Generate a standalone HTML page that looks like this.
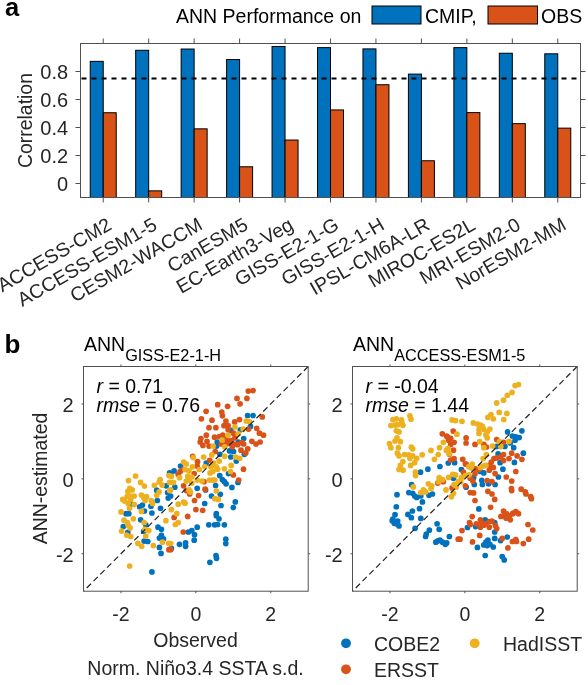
<!DOCTYPE html>
<html><head><meta charset="utf-8"><style>
html,body{margin:0;padding:0;background:#fff;}
svg{display:block;will-change:transform;font-family:"Liberation Sans",sans-serif;}
</style></head><body>
<svg width="588" height="685" viewBox="0 0 588 685">
<rect x="90.23" y="61.36" width="13.00" height="136.14" fill="#0072BD" stroke="#000" stroke-width="1"/>
<rect x="103.23" y="112.74" width="13.00" height="84.76" fill="#D95319" stroke="#000" stroke-width="1"/>
<rect x="135.68" y="50.30" width="13.00" height="147.20" fill="#0072BD" stroke="#000" stroke-width="1"/>
<rect x="148.68" y="190.86" width="13.00" height="6.64" fill="#D95319" stroke="#000" stroke-width="1"/>
<rect x="181.14" y="49.04" width="13.00" height="148.46" fill="#0072BD" stroke="#000" stroke-width="1"/>
<rect x="194.14" y="128.84" width="13.00" height="68.66" fill="#D95319" stroke="#000" stroke-width="1"/>
<rect x="226.59" y="59.54" width="13.00" height="137.96" fill="#0072BD" stroke="#000" stroke-width="1"/>
<rect x="239.59" y="166.78" width="13.00" height="30.72" fill="#D95319" stroke="#000" stroke-width="1"/>
<rect x="272.05" y="46.52" width="13.00" height="150.98" fill="#0072BD" stroke="#000" stroke-width="1"/>
<rect x="285.05" y="140.04" width="13.00" height="57.46" fill="#D95319" stroke="#000" stroke-width="1"/>
<rect x="317.50" y="47.64" width="13.00" height="149.86" fill="#0072BD" stroke="#000" stroke-width="1"/>
<rect x="330.50" y="109.94" width="13.00" height="87.56" fill="#D95319" stroke="#000" stroke-width="1"/>
<rect x="362.95" y="48.90" width="13.00" height="148.60" fill="#0072BD" stroke="#000" stroke-width="1"/>
<rect x="375.95" y="84.74" width="13.00" height="112.76" fill="#D95319" stroke="#000" stroke-width="1"/>
<rect x="408.41" y="74.10" width="13.00" height="123.40" fill="#0072BD" stroke="#000" stroke-width="1"/>
<rect x="421.41" y="160.76" width="13.00" height="36.74" fill="#D95319" stroke="#000" stroke-width="1"/>
<rect x="453.86" y="47.64" width="13.00" height="149.86" fill="#0072BD" stroke="#000" stroke-width="1"/>
<rect x="466.86" y="112.60" width="13.00" height="84.90" fill="#D95319" stroke="#000" stroke-width="1"/>
<rect x="499.32" y="53.24" width="13.00" height="144.26" fill="#0072BD" stroke="#000" stroke-width="1"/>
<rect x="512.32" y="123.66" width="13.00" height="73.84" fill="#D95319" stroke="#000" stroke-width="1"/>
<rect x="544.77" y="53.80" width="13.00" height="143.70" fill="#0072BD" stroke="#000" stroke-width="1"/>
<rect x="557.77" y="128.14" width="13.00" height="69.36" fill="#D95319" stroke="#000" stroke-width="1"/>
<line x1="80.5" y1="78.50" x2="580.5" y2="78.50" stroke="#000" stroke-width="2" stroke-dasharray="5 5" stroke-dashoffset="-1"/>
<rect x="80.5" y="43.5" width="500.0" height="154.0" fill="none" stroke="#505050" stroke-width="1"/>
<line x1="103.23" y1="43.5" x2="103.23" y2="38.5" stroke="#505050" stroke-width="1"/>
<line x1="103.23" y1="197.5" x2="103.23" y2="202.5" stroke="#505050" stroke-width="1"/>
<line x1="148.68" y1="43.5" x2="148.68" y2="38.5" stroke="#505050" stroke-width="1"/>
<line x1="148.68" y1="197.5" x2="148.68" y2="202.5" stroke="#505050" stroke-width="1"/>
<line x1="194.14" y1="43.5" x2="194.14" y2="38.5" stroke="#505050" stroke-width="1"/>
<line x1="194.14" y1="197.5" x2="194.14" y2="202.5" stroke="#505050" stroke-width="1"/>
<line x1="239.59" y1="43.5" x2="239.59" y2="38.5" stroke="#505050" stroke-width="1"/>
<line x1="239.59" y1="197.5" x2="239.59" y2="202.5" stroke="#505050" stroke-width="1"/>
<line x1="285.05" y1="43.5" x2="285.05" y2="38.5" stroke="#505050" stroke-width="1"/>
<line x1="285.05" y1="197.5" x2="285.05" y2="202.5" stroke="#505050" stroke-width="1"/>
<line x1="330.50" y1="43.5" x2="330.50" y2="38.5" stroke="#505050" stroke-width="1"/>
<line x1="330.50" y1="197.5" x2="330.50" y2="202.5" stroke="#505050" stroke-width="1"/>
<line x1="375.95" y1="43.5" x2="375.95" y2="38.5" stroke="#505050" stroke-width="1"/>
<line x1="375.95" y1="197.5" x2="375.95" y2="202.5" stroke="#505050" stroke-width="1"/>
<line x1="421.41" y1="43.5" x2="421.41" y2="38.5" stroke="#505050" stroke-width="1"/>
<line x1="421.41" y1="197.5" x2="421.41" y2="202.5" stroke="#505050" stroke-width="1"/>
<line x1="466.86" y1="43.5" x2="466.86" y2="38.5" stroke="#505050" stroke-width="1"/>
<line x1="466.86" y1="197.5" x2="466.86" y2="202.5" stroke="#505050" stroke-width="1"/>
<line x1="512.32" y1="43.5" x2="512.32" y2="38.5" stroke="#505050" stroke-width="1"/>
<line x1="512.32" y1="197.5" x2="512.32" y2="202.5" stroke="#505050" stroke-width="1"/>
<line x1="557.77" y1="43.5" x2="557.77" y2="38.5" stroke="#505050" stroke-width="1"/>
<line x1="557.77" y1="197.5" x2="557.77" y2="202.5" stroke="#505050" stroke-width="1"/>
<line x1="75.5" y1="183.50" x2="80.5" y2="183.50" stroke="#505050" stroke-width="1"/>
<line x1="580.5" y1="183.50" x2="585.5" y2="183.50" stroke="#505050" stroke-width="1"/>
<text x="68.10" y="190.70" font-size="20" text-anchor="end" fill="#262626">0</text>
<line x1="75.5" y1="155.50" x2="80.5" y2="155.50" stroke="#505050" stroke-width="1"/>
<line x1="580.5" y1="155.50" x2="585.5" y2="155.50" stroke="#505050" stroke-width="1"/>
<text x="68.10" y="162.70" font-size="20" text-anchor="end" fill="#262626">0.2</text>
<line x1="75.5" y1="127.50" x2="80.5" y2="127.50" stroke="#505050" stroke-width="1"/>
<line x1="580.5" y1="127.50" x2="585.5" y2="127.50" stroke="#505050" stroke-width="1"/>
<text x="68.10" y="134.70" font-size="20" text-anchor="end" fill="#262626">0.4</text>
<line x1="75.5" y1="99.50" x2="80.5" y2="99.50" stroke="#505050" stroke-width="1"/>
<line x1="580.5" y1="99.50" x2="585.5" y2="99.50" stroke="#505050" stroke-width="1"/>
<text x="68.10" y="106.70" font-size="20" text-anchor="end" fill="#262626">0.6</text>
<line x1="75.5" y1="71.50" x2="80.5" y2="71.50" stroke="#505050" stroke-width="1"/>
<line x1="580.5" y1="71.50" x2="585.5" y2="71.50" stroke="#505050" stroke-width="1"/>
<text x="68.10" y="78.70" font-size="20" text-anchor="end" fill="#262626">0.8</text>
<text transform="translate(32,120.5) rotate(-90)" font-size="19.4" text-anchor="middle" fill="#262626">Correlation</text>
<text transform="translate(105.73,216) rotate(-30)" font-size="19.5" text-anchor="end" dominant-baseline="hanging" fill="#262626">ACCESS-CM2</text>
<text transform="translate(151.18,216) rotate(-30)" font-size="19.5" text-anchor="end" dominant-baseline="hanging" fill="#262626">ACCESS-ESM1-5</text>
<text transform="translate(196.64,216) rotate(-30)" font-size="19.5" text-anchor="end" dominant-baseline="hanging" fill="#262626">CESM2-WACCM</text>
<text transform="translate(242.09,216) rotate(-30)" font-size="19.5" text-anchor="end" dominant-baseline="hanging" fill="#262626">CanESM5</text>
<text transform="translate(287.55,216) rotate(-30)" font-size="19.5" text-anchor="end" dominant-baseline="hanging" fill="#262626">EC-Earth3-Veg</text>
<text transform="translate(333.00,216) rotate(-30)" font-size="19.5" text-anchor="end" dominant-baseline="hanging" fill="#262626">GISS-E2-1-G</text>
<text transform="translate(378.45,216) rotate(-30)" font-size="19.5" text-anchor="end" dominant-baseline="hanging" fill="#262626">GISS-E2-1-H</text>
<text transform="translate(423.91,216) rotate(-30)" font-size="19.5" text-anchor="end" dominant-baseline="hanging" fill="#262626">IPSL-CM6A-LR</text>
<text transform="translate(469.36,216) rotate(-30)" font-size="19.5" text-anchor="end" dominant-baseline="hanging" fill="#262626">MIROC-ES2L</text>
<text transform="translate(514.82,216) rotate(-30)" font-size="19.5" text-anchor="end" dominant-baseline="hanging" fill="#262626">MRI-ESM2-0</text>
<text transform="translate(560.27,216) rotate(-30)" font-size="19.5" text-anchor="end" dominant-baseline="hanging" fill="#262626">NorESM2-MM</text>
<text x="176" y="22.6" font-size="19.5" fill="#000">ANN Performance on</text>
<rect x="372" y="6" width="49" height="18" fill="#0072BD" stroke="#000" stroke-width="1"/>
<text x="425" y="22.6" font-size="19.5" fill="#000">CMIP,</text>
<rect x="488" y="6" width="49.5" height="18" fill="#D95319" stroke="#000" stroke-width="1"/>
<text x="541" y="22.6" font-size="19.5" fill="#000">OBS</text>
<text x="5" y="15.8" font-size="25.5" font-weight="bold" fill="#000">a</text>
<text x="4.5" y="352.5" font-size="26" font-weight="bold" fill="#000">b</text>
<circle cx="247.6" cy="415.5" r="2.85" fill="#0072BD"/>
<circle cx="253.1" cy="415.5" r="2.85" fill="#0072BD"/>
<circle cx="169.6" cy="472.9" r="2.85" fill="#0072BD"/>
<circle cx="166.2" cy="485.8" r="2.85" fill="#0072BD"/>
<circle cx="156.7" cy="490.2" r="2.85" fill="#0072BD"/>
<circle cx="157.3" cy="500.5" r="2.85" fill="#0072BD"/>
<circle cx="151.0" cy="506.2" r="2.85" fill="#0072BD"/>
<circle cx="139.7" cy="506.9" r="2.85" fill="#0072BD"/>
<circle cx="142.4" cy="505.1" r="2.85" fill="#0072BD"/>
<circle cx="144.4" cy="511.0" r="2.85" fill="#0072BD"/>
<circle cx="160.5" cy="508.3" r="2.85" fill="#0072BD"/>
<circle cx="126.1" cy="513.7" r="2.85" fill="#0072BD"/>
<circle cx="128.8" cy="513.7" r="2.85" fill="#0072BD"/>
<circle cx="151.9" cy="513.0" r="2.85" fill="#0072BD"/>
<circle cx="167.6" cy="492.6" r="2.85" fill="#0072BD"/>
<circle cx="168.2" cy="498.1" r="2.85" fill="#0072BD"/>
<circle cx="130.8" cy="504.6" r="2.85" fill="#0072BD"/>
<circle cx="180.6" cy="466.1" r="2.85" fill="#0072BD"/>
<circle cx="174.1" cy="470.9" r="2.85" fill="#0072BD"/>
<circle cx="219.7" cy="475.6" r="2.85" fill="#0072BD"/>
<circle cx="222.4" cy="479.7" r="2.85" fill="#0072BD"/>
<circle cx="224.4" cy="481.7" r="2.85" fill="#0072BD"/>
<circle cx="226.1" cy="483.8" r="2.85" fill="#0072BD"/>
<circle cx="215.6" cy="485.5" r="2.85" fill="#0072BD"/>
<circle cx="231.9" cy="487.4" r="2.85" fill="#0072BD"/>
<circle cx="197.2" cy="488.3" r="2.85" fill="#0072BD"/>
<circle cx="205.6" cy="489.9" r="2.85" fill="#0072BD"/>
<circle cx="211.5" cy="496.0" r="2.85" fill="#0072BD"/>
<circle cx="220.3" cy="494.3" r="2.85" fill="#0072BD"/>
<circle cx="235.3" cy="501.9" r="2.85" fill="#0072BD"/>
<circle cx="221.0" cy="505.5" r="2.85" fill="#0072BD"/>
<circle cx="233.3" cy="507.6" r="2.85" fill="#0072BD"/>
<circle cx="204.7" cy="503.5" r="2.85" fill="#0072BD"/>
<circle cx="174.8" cy="487.2" r="2.85" fill="#0072BD"/>
<circle cx="170.7" cy="496.0" r="2.85" fill="#0072BD"/>
<circle cx="228.5" cy="473.6" r="2.85" fill="#0072BD"/>
<circle cx="238.0" cy="482.4" r="2.85" fill="#0072BD"/>
<circle cx="216.3" cy="513.7" r="2.85" fill="#0072BD"/>
<circle cx="170.7" cy="474.9" r="2.85" fill="#0072BD"/>
<circle cx="140.6" cy="519.8" r="2.85" fill="#0072BD"/>
<circle cx="145.8" cy="524.8" r="2.85" fill="#0072BD"/>
<circle cx="123.3" cy="526.6" r="2.85" fill="#0072BD"/>
<circle cx="127.8" cy="532.4" r="2.85" fill="#0072BD"/>
<circle cx="143.7" cy="531.3" r="2.85" fill="#0072BD"/>
<circle cx="144.1" cy="541.1" r="2.85" fill="#0072BD"/>
<circle cx="147.8" cy="541.5" r="2.85" fill="#0072BD"/>
<circle cx="158.0" cy="527.2" r="2.85" fill="#0072BD"/>
<circle cx="161.4" cy="529.3" r="2.85" fill="#0072BD"/>
<circle cx="161.4" cy="535.4" r="2.85" fill="#0072BD"/>
<circle cx="159.4" cy="538.1" r="2.85" fill="#0072BD"/>
<circle cx="163.5" cy="538.8" r="2.85" fill="#0072BD"/>
<circle cx="159.4" cy="547.4" r="2.85" fill="#0072BD"/>
<circle cx="161.0" cy="553.4" r="2.85" fill="#0072BD"/>
<circle cx="151.9" cy="571.9" r="2.85" fill="#0072BD"/>
<circle cx="216.3" cy="515.7" r="2.85" fill="#0072BD"/>
<circle cx="219.0" cy="518.8" r="2.85" fill="#0072BD"/>
<circle cx="208.8" cy="524.8" r="2.85" fill="#0072BD"/>
<circle cx="214.6" cy="524.8" r="2.85" fill="#0072BD"/>
<circle cx="217.6" cy="524.5" r="2.85" fill="#0072BD"/>
<circle cx="224.4" cy="524.8" r="2.85" fill="#0072BD"/>
<circle cx="197.2" cy="527.2" r="2.85" fill="#0072BD"/>
<circle cx="188.4" cy="532.0" r="2.85" fill="#0072BD"/>
<circle cx="191.8" cy="530.6" r="2.85" fill="#0072BD"/>
<circle cx="194.5" cy="534.7" r="2.85" fill="#0072BD"/>
<circle cx="194.2" cy="540.2" r="2.85" fill="#0072BD"/>
<circle cx="179.5" cy="544.3" r="2.85" fill="#0072BD"/>
<circle cx="185.6" cy="542.9" r="2.85" fill="#0072BD"/>
<circle cx="185.6" cy="546.3" r="2.85" fill="#0072BD"/>
<circle cx="171.4" cy="548.3" r="2.85" fill="#0072BD"/>
<circle cx="225.8" cy="539.2" r="2.85" fill="#0072BD"/>
<circle cx="225.8" cy="543.6" r="2.85" fill="#0072BD"/>
<circle cx="216.0" cy="555.5" r="2.85" fill="#0072BD"/>
<circle cx="216.5" cy="558.3" r="2.85" fill="#0072BD"/>
<circle cx="209.9" cy="562.3" r="2.85" fill="#0072BD"/>
<circle cx="217.2" cy="442.0" r="2.85" fill="#0072BD"/>
<circle cx="216.5" cy="446.1" r="2.85" fill="#0072BD"/>
<circle cx="229.5" cy="442.7" r="2.85" fill="#0072BD"/>
<circle cx="243.7" cy="438.6" r="2.85" fill="#0072BD"/>
<circle cx="230.8" cy="430.4" r="2.85" fill="#0072BD"/>
<circle cx="240.3" cy="429.8" r="2.85" fill="#0072BD"/>
<circle cx="250.5" cy="426.4" r="2.85" fill="#0072BD"/>
<circle cx="238.3" cy="442.0" r="2.85" fill="#0072BD"/>
<circle cx="229.5" cy="450.9" r="2.85" fill="#0072BD"/>
<circle cx="233.5" cy="451.5" r="2.85" fill="#0072BD"/>
<circle cx="230.8" cy="457.0" r="2.85" fill="#0072BD"/>
<circle cx="244.4" cy="454.3" r="2.85" fill="#0072BD"/>
<circle cx="236.3" cy="461.1" r="2.85" fill="#0072BD"/>
<circle cx="206.3" cy="463.1" r="2.85" fill="#0072BD"/>
<circle cx="219.9" cy="454.3" r="2.85" fill="#0072BD"/>
<circle cx="248.3" cy="391.1" r="2.85" fill="#D95319"/>
<circle cx="253.1" cy="390.6" r="2.85" fill="#D95319"/>
<circle cx="237.0" cy="398.4" r="2.85" fill="#D95319"/>
<circle cx="246.9" cy="398.4" r="2.85" fill="#D95319"/>
<circle cx="240.1" cy="403.8" r="2.85" fill="#D95319"/>
<circle cx="217.7" cy="404.7" r="2.85" fill="#D95319"/>
<circle cx="227.6" cy="406.3" r="2.85" fill="#D95319"/>
<circle cx="206.1" cy="411.3" r="2.85" fill="#D95319"/>
<circle cx="221.8" cy="412.0" r="2.85" fill="#D95319"/>
<circle cx="222.4" cy="415.8" r="2.85" fill="#D95319"/>
<circle cx="201.4" cy="418.8" r="2.85" fill="#D95319"/>
<circle cx="212.0" cy="420.2" r="2.85" fill="#D95319"/>
<circle cx="239.5" cy="419.6" r="2.85" fill="#D95319"/>
<circle cx="262.3" cy="416.9" r="2.85" fill="#D95319"/>
<circle cx="225.9" cy="421.0" r="2.85" fill="#D95319"/>
<circle cx="234.7" cy="421.9" r="2.85" fill="#D95319"/>
<circle cx="197.2" cy="466.1" r="2.85" fill="#D95319"/>
<circle cx="180.2" cy="471.5" r="2.85" fill="#D95319"/>
<circle cx="182.9" cy="469.5" r="2.85" fill="#D95319"/>
<circle cx="194.2" cy="473.6" r="2.85" fill="#D95319"/>
<circle cx="243.5" cy="469.2" r="2.85" fill="#D95319"/>
<circle cx="233.3" cy="474.9" r="2.85" fill="#D95319"/>
<circle cx="238.7" cy="480.1" r="2.85" fill="#D95319"/>
<circle cx="204.0" cy="481.7" r="2.85" fill="#D95319"/>
<circle cx="205.1" cy="489.2" r="2.85" fill="#D95319"/>
<circle cx="183.6" cy="485.8" r="2.85" fill="#D95319"/>
<circle cx="186.3" cy="490.6" r="2.85" fill="#D95319"/>
<circle cx="189.7" cy="494.0" r="2.85" fill="#D95319"/>
<circle cx="198.6" cy="495.6" r="2.85" fill="#D95319"/>
<circle cx="194.5" cy="500.5" r="2.85" fill="#D95319"/>
<circle cx="195.9" cy="509.6" r="2.85" fill="#D95319"/>
<circle cx="202.7" cy="510.3" r="2.85" fill="#D95319"/>
<circle cx="178.2" cy="474.3" r="2.85" fill="#D95319"/>
<circle cx="168.9" cy="549.7" r="2.85" fill="#D95319"/>
<circle cx="174.1" cy="517.4" r="2.85" fill="#D95319"/>
<circle cx="187.7" cy="516.4" r="2.85" fill="#D95319"/>
<circle cx="183.3" cy="532.0" r="2.85" fill="#D95319"/>
<circle cx="170.7" cy="549.7" r="2.85" fill="#D95319"/>
<circle cx="209.0" cy="427.7" r="2.85" fill="#D95319"/>
<circle cx="215.9" cy="427.7" r="2.85" fill="#D95319"/>
<circle cx="224.0" cy="425.7" r="2.85" fill="#D95319"/>
<circle cx="228.1" cy="429.8" r="2.85" fill="#D95319"/>
<circle cx="248.5" cy="429.1" r="2.85" fill="#D95319"/>
<circle cx="256.7" cy="428.4" r="2.85" fill="#D95319"/>
<circle cx="259.4" cy="433.2" r="2.85" fill="#D95319"/>
<circle cx="263.5" cy="435.2" r="2.85" fill="#D95319"/>
<circle cx="206.3" cy="435.2" r="2.85" fill="#D95319"/>
<circle cx="200.9" cy="438.6" r="2.85" fill="#D95319"/>
<circle cx="200.2" cy="442.0" r="2.85" fill="#D95319"/>
<circle cx="202.9" cy="445.4" r="2.85" fill="#D95319"/>
<circle cx="207.0" cy="441.3" r="2.85" fill="#D95319"/>
<circle cx="214.5" cy="437.2" r="2.85" fill="#D95319"/>
<circle cx="219.3" cy="436.6" r="2.85" fill="#D95319"/>
<circle cx="222.7" cy="435.2" r="2.85" fill="#D95319"/>
<circle cx="226.1" cy="439.3" r="2.85" fill="#D95319"/>
<circle cx="221.3" cy="444.0" r="2.85" fill="#D95319"/>
<circle cx="226.7" cy="444.0" r="2.85" fill="#D95319"/>
<circle cx="233.5" cy="433.2" r="2.85" fill="#D95319"/>
<circle cx="234.9" cy="437.9" r="2.85" fill="#D95319"/>
<circle cx="230.8" cy="440.6" r="2.85" fill="#D95319"/>
<circle cx="233.5" cy="444.0" r="2.85" fill="#D95319"/>
<circle cx="232.2" cy="446.8" r="2.85" fill="#D95319"/>
<circle cx="237.6" cy="444.7" r="2.85" fill="#D95319"/>
<circle cx="241.7" cy="442.7" r="2.85" fill="#D95319"/>
<circle cx="243.7" cy="444.0" r="2.85" fill="#D95319"/>
<circle cx="241.0" cy="450.2" r="2.85" fill="#D95319"/>
<circle cx="245.8" cy="452.9" r="2.85" fill="#D95319"/>
<circle cx="247.8" cy="448.8" r="2.85" fill="#D95319"/>
<circle cx="251.9" cy="441.3" r="2.85" fill="#D95319"/>
<circle cx="256.0" cy="444.0" r="2.85" fill="#D95319"/>
<circle cx="260.1" cy="442.0" r="2.85" fill="#D95319"/>
<circle cx="209.0" cy="446.1" r="2.85" fill="#D95319"/>
<circle cx="215.2" cy="451.5" r="2.85" fill="#D95319"/>
<circle cx="209.7" cy="460.4" r="2.85" fill="#D95319"/>
<circle cx="197.5" cy="461.7" r="2.85" fill="#D95319"/>
<circle cx="192.7" cy="456.3" r="2.85" fill="#D95319"/>
<circle cx="228.1" cy="425.7" r="2.85" fill="#D95319"/>
<circle cx="246.3" cy="421.0" r="2.85" fill="#EDB120"/>
<circle cx="249.3" cy="421.5" r="2.85" fill="#EDB120"/>
<circle cx="135.6" cy="476.0" r="2.85" fill="#EDB120"/>
<circle cx="128.5" cy="480.6" r="2.85" fill="#EDB120"/>
<circle cx="140.6" cy="482.4" r="2.85" fill="#EDB120"/>
<circle cx="144.4" cy="486.1" r="2.85" fill="#EDB120"/>
<circle cx="154.4" cy="485.3" r="2.85" fill="#EDB120"/>
<circle cx="160.1" cy="479.7" r="2.85" fill="#EDB120"/>
<circle cx="159.1" cy="482.0" r="2.85" fill="#EDB120"/>
<circle cx="162.1" cy="485.1" r="2.85" fill="#EDB120"/>
<circle cx="129.7" cy="488.3" r="2.85" fill="#EDB120"/>
<circle cx="132.2" cy="489.9" r="2.85" fill="#EDB120"/>
<circle cx="127.8" cy="491.3" r="2.85" fill="#EDB120"/>
<circle cx="127.0" cy="496.7" r="2.85" fill="#EDB120"/>
<circle cx="130.8" cy="496.0" r="2.85" fill="#EDB120"/>
<circle cx="134.2" cy="496.0" r="2.85" fill="#EDB120"/>
<circle cx="122.7" cy="499.4" r="2.85" fill="#EDB120"/>
<circle cx="124.7" cy="501.1" r="2.85" fill="#EDB120"/>
<circle cx="128.1" cy="503.2" r="2.85" fill="#EDB120"/>
<circle cx="130.8" cy="499.4" r="2.85" fill="#EDB120"/>
<circle cx="141.4" cy="495.1" r="2.85" fill="#EDB120"/>
<circle cx="143.7" cy="497.4" r="2.85" fill="#EDB120"/>
<circle cx="146.5" cy="496.7" r="2.85" fill="#EDB120"/>
<circle cx="145.1" cy="500.5" r="2.85" fill="#EDB120"/>
<circle cx="151.2" cy="500.5" r="2.85" fill="#EDB120"/>
<circle cx="152.6" cy="503.5" r="2.85" fill="#EDB120"/>
<circle cx="156.7" cy="495.3" r="2.85" fill="#EDB120"/>
<circle cx="159.1" cy="491.9" r="2.85" fill="#EDB120"/>
<circle cx="134.2" cy="504.6" r="2.85" fill="#EDB120"/>
<circle cx="129.5" cy="508.3" r="2.85" fill="#EDB120"/>
<circle cx="121.0" cy="511.9" r="2.85" fill="#EDB120"/>
<circle cx="141.4" cy="511.4" r="2.85" fill="#EDB120"/>
<circle cx="168.9" cy="475.6" r="2.85" fill="#EDB120"/>
<circle cx="169.6" cy="482.4" r="2.85" fill="#EDB120"/>
<circle cx="169.6" cy="490.6" r="2.85" fill="#EDB120"/>
<circle cx="183.6" cy="462.0" r="2.85" fill="#EDB120"/>
<circle cx="186.3" cy="464.0" r="2.85" fill="#EDB120"/>
<circle cx="185.0" cy="469.5" r="2.85" fill="#EDB120"/>
<circle cx="189.0" cy="470.9" r="2.85" fill="#EDB120"/>
<circle cx="192.4" cy="466.8" r="2.85" fill="#EDB120"/>
<circle cx="199.3" cy="469.5" r="2.85" fill="#EDB120"/>
<circle cx="204.7" cy="466.5" r="2.85" fill="#EDB120"/>
<circle cx="210.8" cy="466.8" r="2.85" fill="#EDB120"/>
<circle cx="213.5" cy="465.4" r="2.85" fill="#EDB120"/>
<circle cx="216.3" cy="466.8" r="2.85" fill="#EDB120"/>
<circle cx="210.1" cy="472.9" r="2.85" fill="#EDB120"/>
<circle cx="212.9" cy="471.5" r="2.85" fill="#EDB120"/>
<circle cx="217.6" cy="469.2" r="2.85" fill="#EDB120"/>
<circle cx="224.4" cy="468.8" r="2.85" fill="#EDB120"/>
<circle cx="231.2" cy="465.4" r="2.85" fill="#EDB120"/>
<circle cx="230.5" cy="471.5" r="2.85" fill="#EDB120"/>
<circle cx="171.4" cy="476.3" r="2.85" fill="#EDB120"/>
<circle cx="179.5" cy="477.7" r="2.85" fill="#EDB120"/>
<circle cx="187.7" cy="476.3" r="2.85" fill="#EDB120"/>
<circle cx="189.0" cy="479.7" r="2.85" fill="#EDB120"/>
<circle cx="191.8" cy="477.0" r="2.85" fill="#EDB120"/>
<circle cx="186.3" cy="481.1" r="2.85" fill="#EDB120"/>
<circle cx="173.4" cy="482.4" r="2.85" fill="#EDB120"/>
<circle cx="191.8" cy="483.1" r="2.85" fill="#EDB120"/>
<circle cx="197.2" cy="480.1" r="2.85" fill="#EDB120"/>
<circle cx="202.0" cy="481.1" r="2.85" fill="#EDB120"/>
<circle cx="209.5" cy="480.1" r="2.85" fill="#EDB120"/>
<circle cx="212.9" cy="480.1" r="2.85" fill="#EDB120"/>
<circle cx="214.9" cy="480.1" r="2.85" fill="#EDB120"/>
<circle cx="170.7" cy="489.9" r="2.85" fill="#EDB120"/>
<circle cx="189.0" cy="489.9" r="2.85" fill="#EDB120"/>
<circle cx="190.4" cy="491.9" r="2.85" fill="#EDB120"/>
<circle cx="216.3" cy="491.0" r="2.85" fill="#EDB120"/>
<circle cx="214.9" cy="498.7" r="2.85" fill="#EDB120"/>
<circle cx="218.3" cy="499.4" r="2.85" fill="#EDB120"/>
<circle cx="178.2" cy="504.2" r="2.85" fill="#EDB120"/>
<circle cx="183.6" cy="502.1" r="2.85" fill="#EDB120"/>
<circle cx="185.0" cy="503.2" r="2.85" fill="#EDB120"/>
<circle cx="171.4" cy="509.6" r="2.85" fill="#EDB120"/>
<circle cx="176.8" cy="513.7" r="2.85" fill="#EDB120"/>
<circle cx="124.0" cy="520.2" r="2.85" fill="#EDB120"/>
<circle cx="133.3" cy="518.8" r="2.85" fill="#EDB120"/>
<circle cx="127.4" cy="522.5" r="2.85" fill="#EDB120"/>
<circle cx="128.1" cy="525.2" r="2.85" fill="#EDB120"/>
<circle cx="130.1" cy="527.9" r="2.85" fill="#EDB120"/>
<circle cx="121.6" cy="531.1" r="2.85" fill="#EDB120"/>
<circle cx="126.7" cy="535.1" r="2.85" fill="#EDB120"/>
<circle cx="130.8" cy="536.5" r="2.85" fill="#EDB120"/>
<circle cx="144.1" cy="522.5" r="2.85" fill="#EDB120"/>
<circle cx="145.1" cy="529.3" r="2.85" fill="#EDB120"/>
<circle cx="148.8" cy="530.6" r="2.85" fill="#EDB120"/>
<circle cx="145.8" cy="536.1" r="2.85" fill="#EDB120"/>
<circle cx="137.9" cy="543.3" r="2.85" fill="#EDB120"/>
<circle cx="141.7" cy="546.3" r="2.85" fill="#EDB120"/>
<circle cx="153.3" cy="545.6" r="2.85" fill="#EDB120"/>
<circle cx="162.4" cy="542.2" r="2.85" fill="#EDB120"/>
<circle cx="168.6" cy="543.3" r="2.85" fill="#EDB120"/>
<circle cx="165.9" cy="520.7" r="2.85" fill="#EDB120"/>
<circle cx="129.7" cy="566.0" r="2.85" fill="#EDB120"/>
<circle cx="175.4" cy="524.5" r="2.85" fill="#EDB120"/>
<circle cx="178.2" cy="522.5" r="2.85" fill="#EDB120"/>
<circle cx="170.7" cy="543.6" r="2.85" fill="#EDB120"/>
<circle cx="222.0" cy="440.0" r="2.85" fill="#EDB120"/>
<circle cx="228.1" cy="435.2" r="2.85" fill="#EDB120"/>
<circle cx="234.9" cy="427.0" r="2.85" fill="#EDB120"/>
<circle cx="238.3" cy="433.8" r="2.85" fill="#EDB120"/>
<circle cx="243.1" cy="429.1" r="2.85" fill="#EDB120"/>
<circle cx="213.1" cy="446.1" r="2.85" fill="#EDB120"/>
<circle cx="224.7" cy="446.8" r="2.85" fill="#EDB120"/>
<circle cx="211.8" cy="454.9" r="2.85" fill="#EDB120"/>
<circle cx="203.6" cy="457.0" r="2.85" fill="#EDB120"/>
<circle cx="193.4" cy="457.7" r="2.85" fill="#EDB120"/>
<circle cx="219.3" cy="461.1" r="2.85" fill="#EDB120"/>
<circle cx="224.7" cy="456.3" r="2.85" fill="#EDB120"/>
<circle cx="235.6" cy="457.0" r="2.85" fill="#EDB120"/>
<circle cx="239.7" cy="458.3" r="2.85" fill="#EDB120"/>
<circle cx="213.8" cy="463.1" r="2.85" fill="#EDB120"/>
<line x1="308.2" y1="366.5" x2="83.5" y2="591.2" stroke="#222" stroke-width="1.2" stroke-dasharray="6 3.6"/>
<rect x="83.5" y="366.5" width="224.7" height="224.7" fill="none" stroke="#505050" stroke-width="1"/>
<line x1="120.95" y1="366.5" x2="120.95" y2="364.5" stroke="#505050" stroke-width="1"/>
<line x1="120.95" y1="591.2" x2="120.95" y2="593.2" stroke="#505050" stroke-width="1"/>
<line x1="81.5" y1="553.75" x2="83.5" y2="553.75" stroke="#505050" stroke-width="1"/>
<line x1="308.2" y1="553.75" x2="310.2" y2="553.75" stroke="#505050" stroke-width="1"/>
<text x="120.95" y="621.4000000000001" font-size="19.5" text-anchor="middle" fill="#262626">-2</text>
<text x="73.70" y="561.75" font-size="20" text-anchor="end" fill="#262626">-2</text>
<line x1="195.85" y1="366.5" x2="195.85" y2="364.5" stroke="#505050" stroke-width="1"/>
<line x1="195.85" y1="591.2" x2="195.85" y2="593.2" stroke="#505050" stroke-width="1"/>
<line x1="81.5" y1="478.85" x2="83.5" y2="478.85" stroke="#505050" stroke-width="1"/>
<line x1="308.2" y1="478.85" x2="310.2" y2="478.85" stroke="#505050" stroke-width="1"/>
<text x="195.85" y="621.4000000000001" font-size="19.5" text-anchor="middle" fill="#262626">0</text>
<text x="73.70" y="486.85" font-size="20" text-anchor="end" fill="#262626">0</text>
<line x1="270.75" y1="366.5" x2="270.75" y2="364.5" stroke="#505050" stroke-width="1"/>
<line x1="270.75" y1="591.2" x2="270.75" y2="593.2" stroke="#505050" stroke-width="1"/>
<line x1="81.5" y1="403.95" x2="83.5" y2="403.95" stroke="#505050" stroke-width="1"/>
<line x1="308.2" y1="403.95" x2="310.2" y2="403.95" stroke="#505050" stroke-width="1"/>
<text x="270.75" y="621.4000000000001" font-size="19.5" text-anchor="middle" fill="#262626">2</text>
<text x="73.70" y="411.95" font-size="20" text-anchor="end" fill="#262626">2</text>
<text x="84.0" y="351" font-size="19.5" fill="#000">ANN<tspan font-size="16.3" dy="10">GISS-E2-1-H</tspan></text>
<text x="96.5" y="392.8" font-size="19.5" fill="#000"><tspan font-style="italic">r</tspan> = 0.71</text>
<text x="96.5" y="411.9" font-size="19.5" fill="#000"><tspan font-style="italic">rmse</tspan> = 0.76</text>
<circle cx="507.6" cy="431.9" r="2.85" fill="#0072BD"/>
<circle cx="521.9" cy="430.8" r="2.85" fill="#0072BD"/>
<circle cx="512.4" cy="436.0" r="2.85" fill="#0072BD"/>
<circle cx="515.8" cy="436.9" r="2.85" fill="#0072BD"/>
<circle cx="519.2" cy="437.6" r="2.85" fill="#0072BD"/>
<circle cx="515.1" cy="440.3" r="2.85" fill="#0072BD"/>
<circle cx="510.3" cy="443.0" r="2.85" fill="#0072BD"/>
<circle cx="420.5" cy="472.2" r="2.85" fill="#0072BD"/>
<circle cx="427.9" cy="469.2" r="2.85" fill="#0072BD"/>
<circle cx="439.9" cy="466.5" r="2.85" fill="#0072BD"/>
<circle cx="448.3" cy="463.0" r="2.85" fill="#0072BD"/>
<circle cx="454.6" cy="462.7" r="2.85" fill="#0072BD"/>
<circle cx="411.6" cy="484.7" r="2.85" fill="#0072BD"/>
<circle cx="408.8" cy="492.6" r="2.85" fill="#0072BD"/>
<circle cx="412.7" cy="493.3" r="2.85" fill="#0072BD"/>
<circle cx="414.7" cy="496.0" r="2.85" fill="#0072BD"/>
<circle cx="416.7" cy="497.4" r="2.85" fill="#0072BD"/>
<circle cx="420.8" cy="496.0" r="2.85" fill="#0072BD"/>
<circle cx="429.0" cy="495.3" r="2.85" fill="#0072BD"/>
<circle cx="432.4" cy="494.0" r="2.85" fill="#0072BD"/>
<circle cx="397.0" cy="494.7" r="2.85" fill="#0072BD"/>
<circle cx="422.4" cy="501.9" r="2.85" fill="#0072BD"/>
<circle cx="396.3" cy="506.9" r="2.85" fill="#0072BD"/>
<circle cx="419.5" cy="508.7" r="2.85" fill="#0072BD"/>
<circle cx="412.4" cy="511.0" r="2.85" fill="#0072BD"/>
<circle cx="407.9" cy="514.4" r="2.85" fill="#0072BD"/>
<circle cx="395.0" cy="514.7" r="2.85" fill="#0072BD"/>
<circle cx="453.5" cy="478.3" r="2.85" fill="#0072BD"/>
<circle cx="513.7" cy="447.7" r="2.85" fill="#0072BD"/>
<circle cx="523.3" cy="453.2" r="2.85" fill="#0072BD"/>
<circle cx="514.4" cy="462.4" r="2.85" fill="#0072BD"/>
<circle cx="498.1" cy="453.8" r="2.85" fill="#0072BD"/>
<circle cx="500.1" cy="462.7" r="2.85" fill="#0072BD"/>
<circle cx="502.9" cy="469.2" r="2.85" fill="#0072BD"/>
<circle cx="483.8" cy="472.9" r="2.85" fill="#0072BD"/>
<circle cx="480.4" cy="471.5" r="2.85" fill="#0072BD"/>
<circle cx="461.4" cy="469.5" r="2.85" fill="#0072BD"/>
<circle cx="473.6" cy="477.7" r="2.85" fill="#0072BD"/>
<circle cx="481.8" cy="480.4" r="2.85" fill="#0072BD"/>
<circle cx="488.6" cy="483.8" r="2.85" fill="#0072BD"/>
<circle cx="495.1" cy="484.5" r="2.85" fill="#0072BD"/>
<circle cx="474.3" cy="484.5" r="2.85" fill="#0072BD"/>
<circle cx="482.4" cy="484.5" r="2.85" fill="#0072BD"/>
<circle cx="466.1" cy="487.2" r="2.85" fill="#0072BD"/>
<circle cx="498.4" cy="477.0" r="2.85" fill="#0072BD"/>
<circle cx="478.8" cy="508.9" r="2.85" fill="#0072BD"/>
<circle cx="504.9" cy="446.4" r="2.85" fill="#0072BD"/>
<circle cx="496.7" cy="446.4" r="2.85" fill="#0072BD"/>
<circle cx="392.9" cy="519.1" r="2.85" fill="#0072BD"/>
<circle cx="397.7" cy="521.1" r="2.85" fill="#0072BD"/>
<circle cx="394.3" cy="523.2" r="2.85" fill="#0072BD"/>
<circle cx="399.0" cy="525.9" r="2.85" fill="#0072BD"/>
<circle cx="396.3" cy="523.8" r="2.85" fill="#0072BD"/>
<circle cx="392.2" cy="520.7" r="2.85" fill="#0072BD"/>
<circle cx="411.3" cy="517.7" r="2.85" fill="#0072BD"/>
<circle cx="420.8" cy="518.4" r="2.85" fill="#0072BD"/>
<circle cx="415.1" cy="528.3" r="2.85" fill="#0072BD"/>
<circle cx="437.1" cy="523.8" r="2.85" fill="#0072BD"/>
<circle cx="439.2" cy="529.3" r="2.85" fill="#0072BD"/>
<circle cx="429.3" cy="530.2" r="2.85" fill="#0072BD"/>
<circle cx="426.3" cy="534.0" r="2.85" fill="#0072BD"/>
<circle cx="425.6" cy="536.5" r="2.85" fill="#0072BD"/>
<circle cx="449.4" cy="536.5" r="2.85" fill="#0072BD"/>
<circle cx="435.8" cy="542.2" r="2.85" fill="#0072BD"/>
<circle cx="437.8" cy="540.9" r="2.85" fill="#0072BD"/>
<circle cx="439.9" cy="540.2" r="2.85" fill="#0072BD"/>
<circle cx="442.6" cy="542.2" r="2.85" fill="#0072BD"/>
<circle cx="445.3" cy="544.3" r="2.85" fill="#0072BD"/>
<circle cx="446.7" cy="542.9" r="2.85" fill="#0072BD"/>
<circle cx="467.5" cy="527.5" r="2.85" fill="#0072BD"/>
<circle cx="475.6" cy="526.6" r="2.85" fill="#0072BD"/>
<circle cx="485.2" cy="519.8" r="2.85" fill="#0072BD"/>
<circle cx="494.7" cy="522.5" r="2.85" fill="#0072BD"/>
<circle cx="494.7" cy="532.0" r="2.85" fill="#0072BD"/>
<circle cx="494.7" cy="538.4" r="2.85" fill="#0072BD"/>
<circle cx="500.5" cy="540.6" r="2.85" fill="#0072BD"/>
<circle cx="507.3" cy="537.0" r="2.85" fill="#0072BD"/>
<circle cx="487.9" cy="540.2" r="2.85" fill="#0072BD"/>
<circle cx="485.9" cy="542.2" r="2.85" fill="#0072BD"/>
<circle cx="483.8" cy="544.9" r="2.85" fill="#0072BD"/>
<circle cx="487.2" cy="545.6" r="2.85" fill="#0072BD"/>
<circle cx="489.9" cy="544.3" r="2.85" fill="#0072BD"/>
<circle cx="493.3" cy="547.0" r="2.85" fill="#0072BD"/>
<circle cx="477.4" cy="547.4" r="2.85" fill="#0072BD"/>
<circle cx="485.2" cy="555.5" r="2.85" fill="#0072BD"/>
<circle cx="502.2" cy="556.5" r="2.85" fill="#0072BD"/>
<circle cx="504.2" cy="559.9" r="2.85" fill="#0072BD"/>
<circle cx="442.3" cy="433.8" r="2.85" fill="#D95319"/>
<circle cx="446.7" cy="436.2" r="2.85" fill="#D95319"/>
<circle cx="448.0" cy="437.6" r="2.85" fill="#D95319"/>
<circle cx="450.7" cy="438.3" r="2.85" fill="#D95319"/>
<circle cx="453.2" cy="431.1" r="2.85" fill="#D95319"/>
<circle cx="448.7" cy="440.3" r="2.85" fill="#D95319"/>
<circle cx="454.1" cy="442.3" r="2.85" fill="#D95319"/>
<circle cx="450.7" cy="444.4" r="2.85" fill="#D95319"/>
<circle cx="466.1" cy="437.9" r="2.85" fill="#D95319"/>
<circle cx="466.1" cy="443.0" r="2.85" fill="#D95319"/>
<circle cx="496.7" cy="439.6" r="2.85" fill="#D95319"/>
<circle cx="503.5" cy="442.3" r="2.85" fill="#D95319"/>
<circle cx="475.0" cy="444.4" r="2.85" fill="#D95319"/>
<circle cx="483.8" cy="444.4" r="2.85" fill="#D95319"/>
<circle cx="453.5" cy="450.2" r="2.85" fill="#D95319"/>
<circle cx="454.1" cy="458.6" r="2.85" fill="#D95319"/>
<circle cx="450.7" cy="460.0" r="2.85" fill="#D95319"/>
<circle cx="449.4" cy="454.3" r="2.85" fill="#D95319"/>
<circle cx="437.8" cy="483.1" r="2.85" fill="#D95319"/>
<circle cx="443.3" cy="481.7" r="2.85" fill="#D95319"/>
<circle cx="452.1" cy="487.9" r="2.85" fill="#D95319"/>
<circle cx="486.5" cy="447.0" r="2.85" fill="#D95319"/>
<circle cx="511.7" cy="453.2" r="2.85" fill="#D95319"/>
<circle cx="517.1" cy="455.9" r="2.85" fill="#D95319"/>
<circle cx="521.9" cy="459.3" r="2.85" fill="#D95319"/>
<circle cx="509.0" cy="458.6" r="2.85" fill="#D95319"/>
<circle cx="503.5" cy="454.5" r="2.85" fill="#D95319"/>
<circle cx="500.8" cy="457.0" r="2.85" fill="#D95319"/>
<circle cx="503.5" cy="460.6" r="2.85" fill="#D95319"/>
<circle cx="494.0" cy="458.6" r="2.85" fill="#D95319"/>
<circle cx="496.7" cy="457.9" r="2.85" fill="#D95319"/>
<circle cx="491.3" cy="462.0" r="2.85" fill="#D95319"/>
<circle cx="489.3" cy="465.4" r="2.85" fill="#D95319"/>
<circle cx="493.3" cy="467.4" r="2.85" fill="#D95319"/>
<circle cx="489.3" cy="470.2" r="2.85" fill="#D95319"/>
<circle cx="495.1" cy="473.6" r="2.85" fill="#D95319"/>
<circle cx="462.7" cy="459.3" r="2.85" fill="#D95319"/>
<circle cx="465.4" cy="464.0" r="2.85" fill="#D95319"/>
<circle cx="475.6" cy="468.8" r="2.85" fill="#D95319"/>
<circle cx="479.0" cy="469.5" r="2.85" fill="#D95319"/>
<circle cx="475.0" cy="473.8" r="2.85" fill="#D95319"/>
<circle cx="463.4" cy="472.2" r="2.85" fill="#D95319"/>
<circle cx="470.2" cy="478.3" r="2.85" fill="#D95319"/>
<circle cx="472.9" cy="481.1" r="2.85" fill="#D95319"/>
<circle cx="465.4" cy="485.8" r="2.85" fill="#D95319"/>
<circle cx="487.2" cy="480.6" r="2.85" fill="#D95319"/>
<circle cx="492.0" cy="481.7" r="2.85" fill="#D95319"/>
<circle cx="506.3" cy="477.0" r="2.85" fill="#D95319"/>
<circle cx="511.7" cy="481.1" r="2.85" fill="#D95319"/>
<circle cx="515.8" cy="471.5" r="2.85" fill="#D95319"/>
<circle cx="511.4" cy="488.5" r="2.85" fill="#D95319"/>
<circle cx="511.7" cy="490.6" r="2.85" fill="#D95319"/>
<circle cx="521.2" cy="489.2" r="2.85" fill="#D95319"/>
<circle cx="525.3" cy="491.9" r="2.85" fill="#D95319"/>
<circle cx="526.0" cy="494.0" r="2.85" fill="#D95319"/>
<circle cx="530.7" cy="496.7" r="2.85" fill="#D95319"/>
<circle cx="531.4" cy="498.7" r="2.85" fill="#D95319"/>
<circle cx="470.2" cy="492.6" r="2.85" fill="#D95319"/>
<circle cx="473.6" cy="492.9" r="2.85" fill="#D95319"/>
<circle cx="487.9" cy="491.3" r="2.85" fill="#D95319"/>
<circle cx="492.0" cy="494.0" r="2.85" fill="#D95319"/>
<circle cx="494.7" cy="499.4" r="2.85" fill="#D95319"/>
<circle cx="475.0" cy="500.5" r="2.85" fill="#D95319"/>
<circle cx="490.6" cy="507.3" r="2.85" fill="#D95319"/>
<circle cx="503.5" cy="511.0" r="2.85" fill="#D95319"/>
<circle cx="506.3" cy="513.7" r="2.85" fill="#D95319"/>
<circle cx="513.1" cy="513.0" r="2.85" fill="#D95319"/>
<circle cx="515.8" cy="511.7" r="2.85" fill="#D95319"/>
<circle cx="518.5" cy="513.7" r="2.85" fill="#D95319"/>
<circle cx="466.1" cy="464.0" r="2.85" fill="#D95319"/>
<circle cx="458.2" cy="539.2" r="2.85" fill="#D95319"/>
<circle cx="472.2" cy="516.6" r="2.85" fill="#D95319"/>
<circle cx="469.5" cy="522.5" r="2.85" fill="#D95319"/>
<circle cx="470.2" cy="524.5" r="2.85" fill="#D95319"/>
<circle cx="476.3" cy="523.8" r="2.85" fill="#D95319"/>
<circle cx="480.4" cy="519.8" r="2.85" fill="#D95319"/>
<circle cx="481.8" cy="523.2" r="2.85" fill="#D95319"/>
<circle cx="483.8" cy="525.2" r="2.85" fill="#D95319"/>
<circle cx="485.9" cy="523.8" r="2.85" fill="#D95319"/>
<circle cx="489.3" cy="521.5" r="2.85" fill="#D95319"/>
<circle cx="492.0" cy="521.1" r="2.85" fill="#D95319"/>
<circle cx="489.3" cy="527.2" r="2.85" fill="#D95319"/>
<circle cx="495.4" cy="525.6" r="2.85" fill="#D95319"/>
<circle cx="496.7" cy="528.6" r="2.85" fill="#D95319"/>
<circle cx="462.0" cy="530.6" r="2.85" fill="#D95319"/>
<circle cx="479.7" cy="535.4" r="2.85" fill="#D95319"/>
<circle cx="460.0" cy="539.2" r="2.85" fill="#D95319"/>
<circle cx="472.5" cy="541.9" r="2.85" fill="#D95319"/>
<circle cx="502.2" cy="538.4" r="2.85" fill="#D95319"/>
<circle cx="512.4" cy="541.5" r="2.85" fill="#D95319"/>
<circle cx="515.8" cy="539.5" r="2.85" fill="#D95319"/>
<circle cx="516.5" cy="541.5" r="2.85" fill="#D95319"/>
<circle cx="523.3" cy="543.6" r="2.85" fill="#D95319"/>
<circle cx="528.7" cy="539.2" r="2.85" fill="#D95319"/>
<circle cx="507.9" cy="547.9" r="2.85" fill="#D95319"/>
<circle cx="528.0" cy="524.5" r="2.85" fill="#D95319"/>
<circle cx="532.8" cy="530.0" r="2.85" fill="#D95319"/>
<circle cx="510.3" cy="519.8" r="2.85" fill="#D95319"/>
<circle cx="506.3" cy="517.7" r="2.85" fill="#D95319"/>
<circle cx="480.4" cy="527.2" r="2.85" fill="#D95319"/>
<circle cx="504.3" cy="515.5" r="2.85" fill="#D95319"/>
<circle cx="509.4" cy="515.5" r="2.85" fill="#D95319"/>
<circle cx="512.8" cy="513.8" r="2.85" fill="#D95319"/>
<circle cx="500.9" cy="516.4" r="2.85" fill="#D95319"/>
<circle cx="506.0" cy="518.1" r="2.85" fill="#D95319"/>
<circle cx="392.9" cy="419.6" r="2.85" fill="#EDB120"/>
<circle cx="396.3" cy="418.8" r="2.85" fill="#EDB120"/>
<circle cx="401.5" cy="419.9" r="2.85" fill="#EDB120"/>
<circle cx="401.8" cy="422.6" r="2.85" fill="#EDB120"/>
<circle cx="409.9" cy="415.8" r="2.85" fill="#EDB120"/>
<circle cx="411.0" cy="419.2" r="2.85" fill="#EDB120"/>
<circle cx="390.9" cy="425.6" r="2.85" fill="#EDB120"/>
<circle cx="395.0" cy="425.1" r="2.85" fill="#EDB120"/>
<circle cx="397.7" cy="424.7" r="2.85" fill="#EDB120"/>
<circle cx="402.9" cy="425.3" r="2.85" fill="#EDB120"/>
<circle cx="396.3" cy="430.8" r="2.85" fill="#EDB120"/>
<circle cx="399.0" cy="431.9" r="2.85" fill="#EDB120"/>
<circle cx="397.0" cy="437.9" r="2.85" fill="#EDB120"/>
<circle cx="395.0" cy="441.0" r="2.85" fill="#EDB120"/>
<circle cx="400.4" cy="441.7" r="2.85" fill="#EDB120"/>
<circle cx="389.5" cy="443.7" r="2.85" fill="#EDB120"/>
<circle cx="452.1" cy="419.9" r="2.85" fill="#EDB120"/>
<circle cx="455.5" cy="420.6" r="2.85" fill="#EDB120"/>
<circle cx="456.9" cy="434.2" r="2.85" fill="#EDB120"/>
<circle cx="443.3" cy="442.3" r="2.85" fill="#EDB120"/>
<circle cx="515.1" cy="385.6" r="2.85" fill="#EDB120"/>
<circle cx="518.5" cy="384.5" r="2.85" fill="#EDB120"/>
<circle cx="512.0" cy="392.4" r="2.85" fill="#EDB120"/>
<circle cx="507.3" cy="395.4" r="2.85" fill="#EDB120"/>
<circle cx="503.5" cy="400.2" r="2.85" fill="#EDB120"/>
<circle cx="496.7" cy="402.9" r="2.85" fill="#EDB120"/>
<circle cx="499.2" cy="412.4" r="2.85" fill="#EDB120"/>
<circle cx="506.9" cy="413.4" r="2.85" fill="#EDB120"/>
<circle cx="503.8" cy="419.6" r="2.85" fill="#EDB120"/>
<circle cx="491.0" cy="414.5" r="2.85" fill="#EDB120"/>
<circle cx="487.9" cy="417.4" r="2.85" fill="#EDB120"/>
<circle cx="493.3" cy="418.8" r="2.85" fill="#EDB120"/>
<circle cx="462.0" cy="421.3" r="2.85" fill="#EDB120"/>
<circle cx="473.3" cy="422.9" r="2.85" fill="#EDB120"/>
<circle cx="477.7" cy="424.0" r="2.85" fill="#EDB120"/>
<circle cx="480.4" cy="425.1" r="2.85" fill="#EDB120"/>
<circle cx="482.4" cy="426.4" r="2.85" fill="#EDB120"/>
<circle cx="479.0" cy="429.4" r="2.85" fill="#EDB120"/>
<circle cx="483.8" cy="429.4" r="2.85" fill="#EDB120"/>
<circle cx="489.9" cy="429.1" r="2.85" fill="#EDB120"/>
<circle cx="487.2" cy="432.1" r="2.85" fill="#EDB120"/>
<circle cx="479.0" cy="433.5" r="2.85" fill="#EDB120"/>
<circle cx="485.9" cy="434.9" r="2.85" fill="#EDB120"/>
<circle cx="487.2" cy="437.9" r="2.85" fill="#EDB120"/>
<circle cx="479.7" cy="441.7" r="2.85" fill="#EDB120"/>
<circle cx="509.0" cy="441.4" r="2.85" fill="#EDB120"/>
<circle cx="499.5" cy="441.7" r="2.85" fill="#EDB120"/>
<circle cx="390.9" cy="447.7" r="2.85" fill="#EDB120"/>
<circle cx="398.4" cy="447.7" r="2.85" fill="#EDB120"/>
<circle cx="411.3" cy="447.0" r="2.85" fill="#EDB120"/>
<circle cx="412.7" cy="448.8" r="2.85" fill="#EDB120"/>
<circle cx="397.4" cy="453.2" r="2.85" fill="#EDB120"/>
<circle cx="399.0" cy="455.9" r="2.85" fill="#EDB120"/>
<circle cx="404.5" cy="454.5" r="2.85" fill="#EDB120"/>
<circle cx="408.6" cy="454.8" r="2.85" fill="#EDB120"/>
<circle cx="412.7" cy="455.9" r="2.85" fill="#EDB120"/>
<circle cx="409.9" cy="458.3" r="2.85" fill="#EDB120"/>
<circle cx="416.7" cy="458.3" r="2.85" fill="#EDB120"/>
<circle cx="422.2" cy="454.8" r="2.85" fill="#EDB120"/>
<circle cx="402.9" cy="461.6" r="2.85" fill="#EDB120"/>
<circle cx="400.4" cy="465.4" r="2.85" fill="#EDB120"/>
<circle cx="399.0" cy="469.5" r="2.85" fill="#EDB120"/>
<circle cx="403.1" cy="470.2" r="2.85" fill="#EDB120"/>
<circle cx="410.6" cy="465.4" r="2.85" fill="#EDB120"/>
<circle cx="414.7" cy="462.7" r="2.85" fill="#EDB120"/>
<circle cx="415.4" cy="472.2" r="2.85" fill="#EDB120"/>
<circle cx="415.6" cy="475.6" r="2.85" fill="#EDB120"/>
<circle cx="431.0" cy="450.4" r="2.85" fill="#EDB120"/>
<circle cx="439.6" cy="447.7" r="2.85" fill="#EDB120"/>
<circle cx="438.2" cy="454.5" r="2.85" fill="#EDB120"/>
<circle cx="434.4" cy="459.3" r="2.85" fill="#EDB120"/>
<circle cx="446.4" cy="450.4" r="2.85" fill="#EDB120"/>
<circle cx="449.4" cy="453.8" r="2.85" fill="#EDB120"/>
<circle cx="448.0" cy="448.4" r="2.85" fill="#EDB120"/>
<circle cx="439.2" cy="477.7" r="2.85" fill="#EDB120"/>
<circle cx="442.6" cy="479.7" r="2.85" fill="#EDB120"/>
<circle cx="438.5" cy="481.7" r="2.85" fill="#EDB120"/>
<circle cx="448.7" cy="477.4" r="2.85" fill="#EDB120"/>
<circle cx="452.8" cy="474.3" r="2.85" fill="#EDB120"/>
<circle cx="455.5" cy="474.9" r="2.85" fill="#EDB120"/>
<circle cx="458.2" cy="481.7" r="2.85" fill="#EDB120"/>
<circle cx="454.1" cy="484.5" r="2.85" fill="#EDB120"/>
<circle cx="446.0" cy="489.9" r="2.85" fill="#EDB120"/>
<circle cx="451.4" cy="496.7" r="2.85" fill="#EDB120"/>
<circle cx="453.5" cy="493.3" r="2.85" fill="#EDB120"/>
<circle cx="413.3" cy="486.9" r="2.85" fill="#EDB120"/>
<circle cx="428.3" cy="483.8" r="2.85" fill="#EDB120"/>
<circle cx="431.7" cy="485.8" r="2.85" fill="#EDB120"/>
<circle cx="431.0" cy="488.5" r="2.85" fill="#EDB120"/>
<circle cx="420.8" cy="492.6" r="2.85" fill="#EDB120"/>
<circle cx="423.5" cy="489.9" r="2.85" fill="#EDB120"/>
<circle cx="425.6" cy="491.9" r="2.85" fill="#EDB120"/>
<circle cx="456.2" cy="487.2" r="2.85" fill="#EDB120"/>
<circle cx="483.8" cy="447.7" r="2.85" fill="#EDB120"/>
<circle cx="492.7" cy="446.1" r="2.85" fill="#EDB120"/>
<circle cx="500.8" cy="446.4" r="2.85" fill="#EDB120"/>
<circle cx="486.5" cy="454.5" r="2.85" fill="#EDB120"/>
<circle cx="483.1" cy="458.6" r="2.85" fill="#EDB120"/>
<circle cx="472.2" cy="464.0" r="2.85" fill="#EDB120"/>
<circle cx="468.8" cy="466.8" r="2.85" fill="#EDB120"/>
<circle cx="471.6" cy="468.1" r="2.85" fill="#EDB120"/>
<circle cx="483.1" cy="466.1" r="2.85" fill="#EDB120"/>
<circle cx="485.9" cy="465.4" r="2.85" fill="#EDB120"/>
<circle cx="468.8" cy="474.9" r="2.85" fill="#EDB120"/>
<circle cx="461.4" cy="477.7" r="2.85" fill="#EDB120"/>
<circle cx="465.4" cy="475.6" r="2.85" fill="#EDB120"/>
<circle cx="460.7" cy="481.7" r="2.85" fill="#EDB120"/>
<circle cx="480.4" cy="467.4" r="2.85" fill="#EDB120"/>
<line x1="577.2" y1="366.5" x2="352.5" y2="591.2" stroke="#222" stroke-width="1.2" stroke-dasharray="6 3.6"/>
<rect x="352.5" y="366.5" width="224.7" height="224.7" fill="none" stroke="#505050" stroke-width="1"/>
<line x1="389.95" y1="366.5" x2="389.95" y2="364.5" stroke="#505050" stroke-width="1"/>
<line x1="389.95" y1="591.2" x2="389.95" y2="593.2" stroke="#505050" stroke-width="1"/>
<line x1="350.5" y1="553.75" x2="352.5" y2="553.75" stroke="#505050" stroke-width="1"/>
<line x1="577.2" y1="553.75" x2="579.2" y2="553.75" stroke="#505050" stroke-width="1"/>
<text x="389.95" y="621.4000000000001" font-size="19.5" text-anchor="middle" fill="#262626">-2</text>
<text x="342.70" y="561.75" font-size="20" text-anchor="end" fill="#262626">-2</text>
<line x1="464.85" y1="366.5" x2="464.85" y2="364.5" stroke="#505050" stroke-width="1"/>
<line x1="464.85" y1="591.2" x2="464.85" y2="593.2" stroke="#505050" stroke-width="1"/>
<line x1="350.5" y1="478.85" x2="352.5" y2="478.85" stroke="#505050" stroke-width="1"/>
<line x1="577.2" y1="478.85" x2="579.2" y2="478.85" stroke="#505050" stroke-width="1"/>
<text x="464.85" y="621.4000000000001" font-size="19.5" text-anchor="middle" fill="#262626">0</text>
<text x="342.70" y="486.85" font-size="20" text-anchor="end" fill="#262626">0</text>
<line x1="539.75" y1="366.5" x2="539.75" y2="364.5" stroke="#505050" stroke-width="1"/>
<line x1="539.75" y1="591.2" x2="539.75" y2="593.2" stroke="#505050" stroke-width="1"/>
<line x1="350.5" y1="403.95" x2="352.5" y2="403.95" stroke="#505050" stroke-width="1"/>
<line x1="577.2" y1="403.95" x2="579.2" y2="403.95" stroke="#505050" stroke-width="1"/>
<text x="539.75" y="621.4000000000001" font-size="19.5" text-anchor="middle" fill="#262626">2</text>
<text x="342.70" y="411.95" font-size="20" text-anchor="end" fill="#262626">2</text>
<text x="353.0" y="351" font-size="19.5" fill="#000">ANN<tspan font-size="16.3" dy="10">ACCESS-ESM1-5</tspan></text>
<text x="365.5" y="392.8" font-size="19.5" fill="#000"><tspan font-style="italic">r</tspan> = -0.04</text>
<text x="365.5" y="411.9" font-size="19.5" fill="#000"><tspan font-style="italic">rmse</tspan> = 1.44</text>
<text transform="translate(47.3,478.5) rotate(-90)" font-size="19.4" text-anchor="middle" fill="#262626">ANN-estimated</text>
<text x="195.5" y="647.2" font-size="19.5" text-anchor="middle" fill="#262626">Observed</text>
<text x="195.5" y="674.5" font-size="19.5" text-anchor="middle" fill="#262626">Norm. Niño3.4 SSTA s.d.</text>
<circle cx="346" cy="643.3" r="4.9" fill="#0072BD"/>
<text x="374" y="651" font-size="19.5" fill="#262626">COBE2</text>
<circle cx="474.7" cy="643.3" r="4.9" fill="#EDB120"/>
<text x="503" y="651" font-size="19.5" fill="#262626">HadISST</text>
<circle cx="346" cy="669.3" r="4.9" fill="#D95319"/>
<text x="374" y="677.1" font-size="19.5" fill="#262626">ERSST</text>
</svg></body></html>
